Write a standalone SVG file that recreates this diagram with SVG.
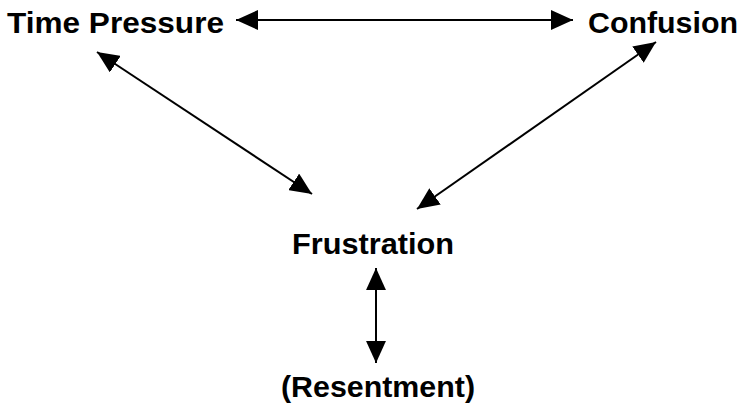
<svg xmlns="http://www.w3.org/2000/svg" width="743" height="409" viewBox="0 0 743 409">
<style>
.lbl{font-family:"Liberation Sans",Arial,sans-serif;font-weight:bold;font-size:30px;fill:#000}
.con{stroke:#000;stroke-width:2;fill:none;marker-start:url(#ah);marker-end:url(#ah)}
</style>
<defs>
<marker id="ah" markerUnits="userSpaceOnUse" markerWidth="22" markerHeight="20" viewBox="0 0 21 19" refX="21" refY="9.5" orient="auto-start-reverse">
<path d="M0,0 L21,9.5 L0,19 Z" fill="#000"/>
</marker>
</defs>
<rect width="743" height="409" fill="#fff"/>
<g id="connectors">
<line class="con" x1="236" y1="20" x2="573" y2="20"/>
<line class="con" x1="97" y1="52" x2="312" y2="194"/>
<line class="con" x1="656" y1="42" x2="417" y2="209"/>
<line class="con" x1="376" y1="268" x2="376" y2="363"/>
</g>
<g id="time-pressure"><text class="lbl" x="7" y="33" textLength="217" lengthAdjust="spacingAndGlyphs">Time Pressure</text></g>
<g id="confusion"><text class="lbl" x="588" y="33" textLength="150" lengthAdjust="spacingAndGlyphs">Confusion</text></g>
<g id="frustration"><text class="lbl" x="292" y="254" textLength="162" lengthAdjust="spacingAndGlyphs">Frustration</text></g>
<g id="resentment"><text class="lbl" x="281" y="397" textLength="194" lengthAdjust="spacingAndGlyphs">(Resentment)</text></g>
</svg>
